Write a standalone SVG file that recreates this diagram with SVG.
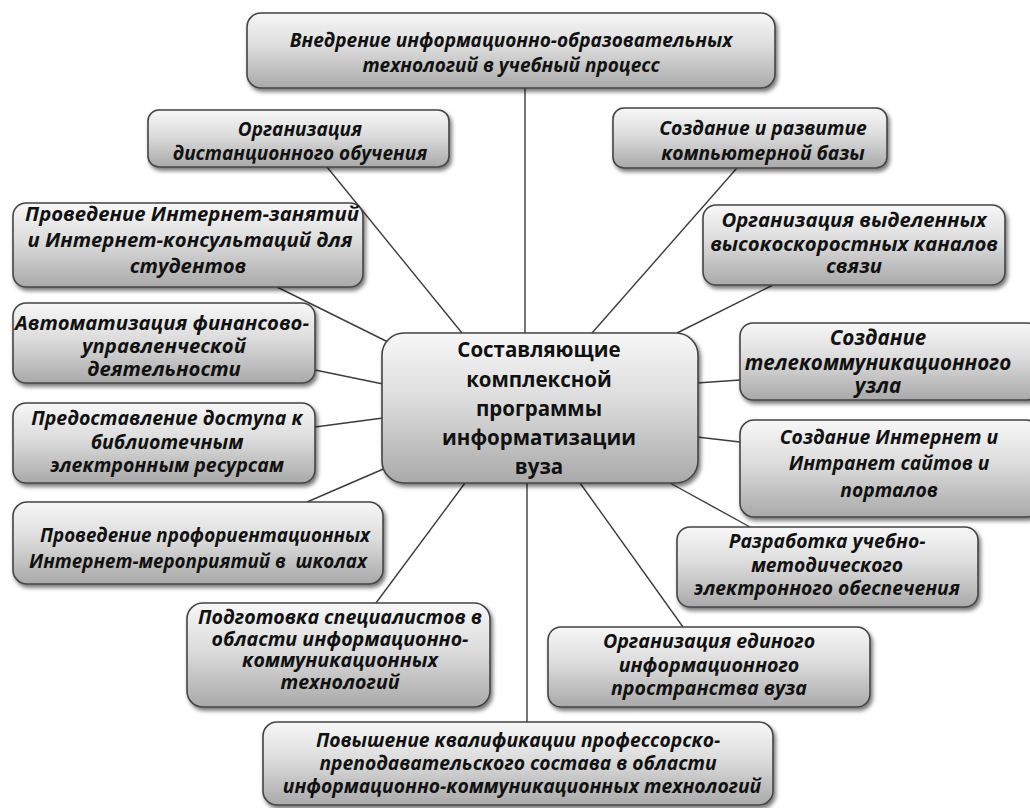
<svg xmlns="http://www.w3.org/2000/svg" width="1030" height="808" viewBox="0 0 1030 808">
  <defs>
    <linearGradient id="boxFill" x1="0" y1="0" x2="0" y2="1">
      <stop offset="0" stop-color="#f7f7f7"/>
      <stop offset="0.45" stop-color="#dcdcdc"/>
      <stop offset="1" stop-color="#a9a9a9"/>
    </linearGradient>
    <filter id="shadow" x="-10%" y="-10%" width="125%" height="135%">
      <feGaussianBlur in="SourceAlpha" stdDeviation="2"/>
      <feOffset dx="2" dy="3" result="off"/>
      <feComponentTransfer><feFuncA type="linear" slope="0.55"/></feComponentTransfer>
      <feMerge><feMergeNode/><feMergeNode in="SourceGraphic"/></feMerge>
    </filter>
  </defs>
  <style>
    .box { fill: url(#boxFill); stroke: #444; stroke-width: 1.6; filter: url(#shadow); }
    .lbl { font-family: "Open Sans", "Noto Sans", sans-serif; font-weight: bold; font-style: italic; fill: #111; text-anchor: middle; white-space: pre; }
    .hub { font-family: "Open Sans", "Noto Sans", sans-serif; font-weight: bold; font-size: 20.5px; fill: #111; text-anchor: middle; }
    .edge { stroke: #3c3c3c; stroke-width: 1.4; fill: none; }
  </style>
  <rect width="1030" height="808" fill="#ffffff"/>

  <!-- spokes from the central node -->
  <g id="connectors">
    <line class="edge" x1="525" y1="88" x2="525" y2="333"/>
    <line class="edge" x1="327" y1="167" x2="462" y2="333"/>
    <line class="edge" x1="737" y1="168" x2="592" y2="333"/>
    <line class="edge" x1="277" y1="287" x2="388" y2="342"/>
    <line class="edge" x1="315" y1="370" x2="383" y2="384"/>
    <line class="edge" x1="315" y1="427" x2="383" y2="418"/>
    <line class="edge" x1="307" y1="502" x2="388" y2="467"/>
    <line class="edge" x1="465" y1="483" x2="376" y2="603"/>
    <line class="edge" x1="527" y1="483" x2="527" y2="722"/>
    <line class="edge" x1="580" y1="483" x2="683" y2="627"/>
    <line class="edge" x1="670" y1="483" x2="750" y2="527"/>
    <line class="edge" x1="697" y1="437" x2="740" y2="442"/>
    <line class="edge" x1="697" y1="383" x2="740" y2="380"/>
    <line class="edge" x1="677" y1="333" x2="773" y2="285"/>
  </g>

  <g id="hub">
    <rect class="box" x="382" y="333" width="316" height="150" rx="22"/>
    <text class="hub" x="539" y="357">Составляющие</text>
    <text class="hub" x="539" y="387">комплексной</text>
    <text class="hub" x="539" y="416">программы</text>
    <text class="hub" x="539" y="445">информатизации</text>
    <text class="hub" x="539" y="474">вуза</text>
  </g>

  <g id="n-tech" font-size="19px">
    <rect class="box" x="247" y="13" width="528" height="75" rx="14"/>
    <text class="lbl" x="511" y="47">Внедрение информационно-образовательных</text>
    <text class="lbl" x="511" y="72">технологий в учебный процесс</text>
  </g>

  <g id="n-distance" font-size="19px">
    <rect class="box" x="148" y="110" width="301" height="57" rx="11"/>
    <text class="lbl" x="300" y="136">Организация</text>
    <text class="lbl" x="300" y="160">дистанционного обучения</text>
  </g>

  <g id="n-computers" font-size="19.3px">
    <rect class="box" x="613" y="108" width="274" height="60" rx="11"/>
    <text class="lbl" x="763" y="135">Создание и развитие</text>
    <text class="lbl" x="763" y="160">компьютерной базы</text>
  </g>

  <g id="n-online-classes" font-size="20.3px">
    <rect class="box" x="13" y="203" width="350" height="84" rx="13"/>
    <text class="lbl" x="192" y="221">Проведение Интернет-занятий</text>
    <text class="lbl" x="190" y="247">и Интернет-консультаций для</text>
    <text class="lbl" x="188" y="273">студентов</text>
  </g>

  <g id="n-channels" font-size="20.3px">
    <rect class="box" x="703" y="205" width="302" height="80" rx="13"/>
    <text class="lbl" x="854" y="227">Организация выделенных</text>
    <text class="lbl" x="854" y="251">высокоскоростных каналов</text>
    <text class="lbl" x="854" y="273">связи</text>
  </g>

  <g id="n-finance" font-size="20.3px">
    <rect class="box" x="13" y="303" width="302" height="80" rx="13"/>
    <text class="lbl" x="162" y="330">Автоматизация финансово-</text>
    <text class="lbl" x="164" y="353">управленческой</text>
    <text class="lbl" x="164" y="376">деятельности</text>
  </g>

  <g id="n-telecom" font-size="20.6px">
    <rect class="box" x="740" y="323" width="300" height="77" rx="13"/>
    <text class="lbl" x="878" y="345">Создание</text>
    <text class="lbl" x="878" y="370">телекоммуникационного</text>
    <text class="lbl" x="878" y="393">узла</text>
  </g>

  <g id="n-library" font-size="19.5px">
    <rect class="box" x="13" y="403" width="302" height="80" rx="13"/>
    <text class="lbl" x="167" y="425">Предоставление доступа к</text>
    <text class="lbl" x="167" y="449">библиотечным</text>
    <text class="lbl" x="167" y="472">электронным ресурсам</text>
  </g>

  <g id="n-sites" font-size="19.3px">
    <rect class="box" x="740" y="420" width="300" height="97" rx="14"/>
    <text class="lbl" x="889" y="444">Создание Интернет и</text>
    <text class="lbl" x="889" y="470">Интранет сайтов и</text>
    <text class="lbl" x="889" y="497">порталов</text>
  </g>

  <g id="n-schools" font-size="18.8px">
    <rect class="box" x="13" y="502" width="370" height="82" rx="14"/>
    <text class="lbl" x="205" y="542">Проведение профориентационных</text>
    <text class="lbl" x="198" y="568">Интернет-мероприятий в  школах</text>
  </g>

  <g id="n-edu-content" font-size="19.3px">
    <rect class="box" x="677" y="527" width="301" height="80" rx="13"/>
    <text class="lbl" x="827" y="548">Разработка учебно-</text>
    <text class="lbl" x="827" y="572">методического</text>
    <text class="lbl" x="827" y="595">электронного обеспечения</text>
  </g>

  <g id="n-specialists" font-size="19.6px">
    <rect class="box" x="187" y="603" width="303" height="104" rx="16"/>
    <text class="lbl" x="340" y="624">Подготовка специалистов в</text>
    <text class="lbl" x="340" y="646">области информационно-</text>
    <text class="lbl" x="340" y="667">коммуникационных</text>
    <text class="lbl" x="340" y="689">технологий</text>
  </g>

  <g id="n-info-space" font-size="19.6px">
    <rect class="box" x="548" y="627" width="322" height="80" rx="13"/>
    <text class="lbl" x="709" y="648">Организация единого</text>
    <text class="lbl" x="709" y="672">информационного</text>
    <text class="lbl" x="709" y="695">пространства вуза</text>
  </g>

  <g id="n-qualification" font-size="19.3px">
    <rect class="box" x="263" y="722" width="510" height="83" rx="14"/>
    <text class="lbl" x="518" y="747">Повышение квалификации профессорско-</text>
    <text class="lbl" x="518" y="770">преподавательского состава в области</text>
    <text class="lbl" x="522" y="793">информационно-коммуникационных технологий</text>
  </g>
</svg>
